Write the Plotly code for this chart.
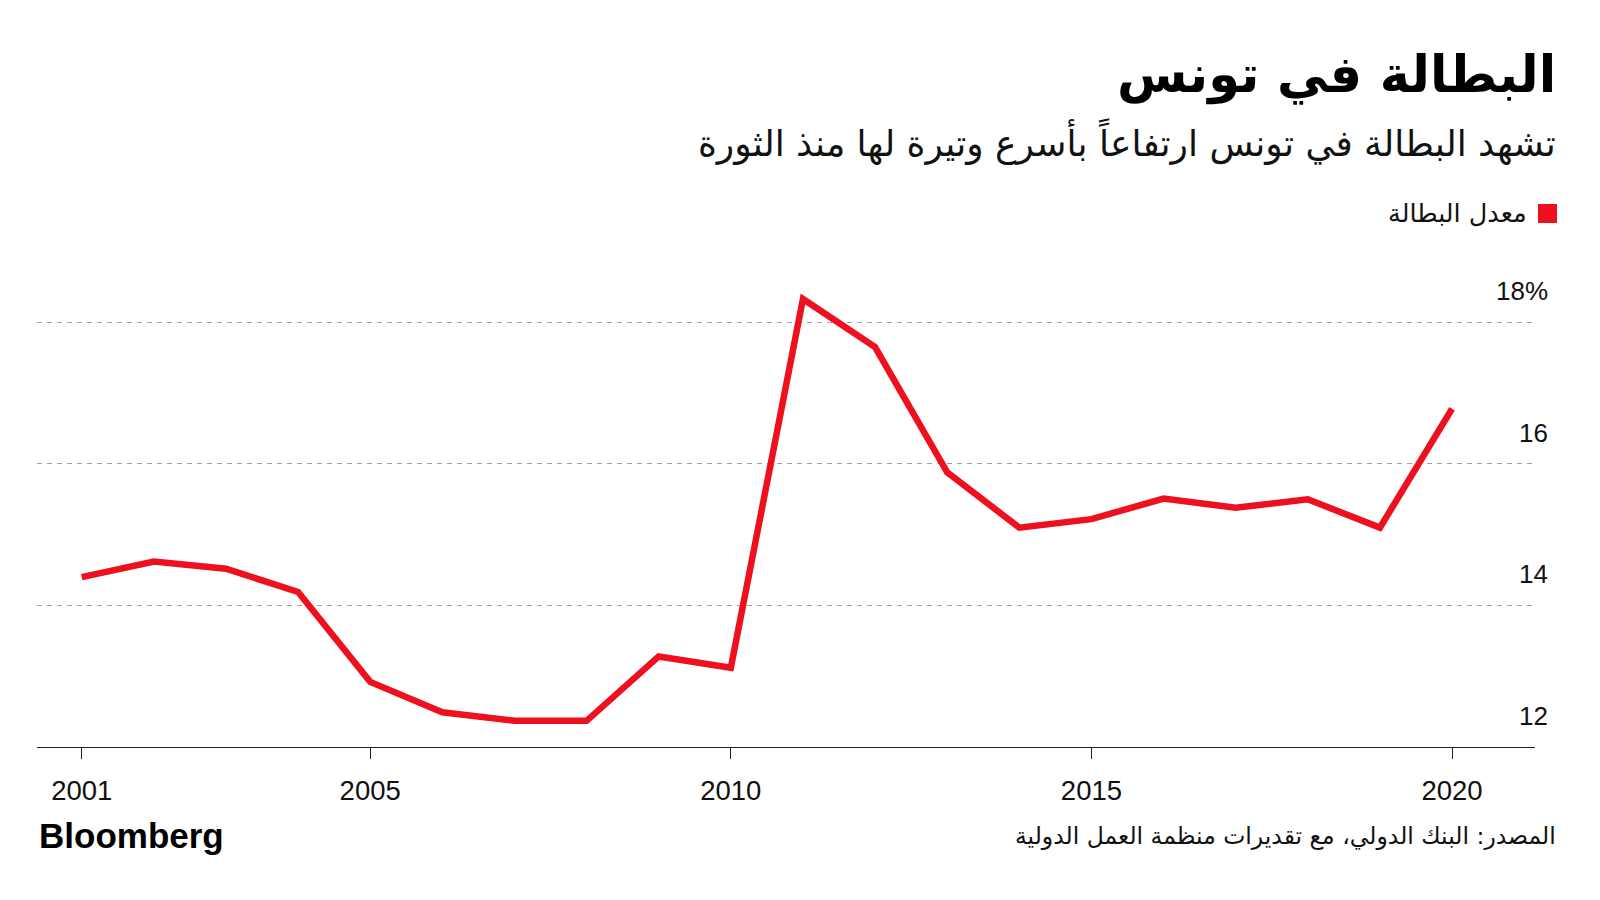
"""Tunisia unemployment line chart, Bloomberg style."""

import plotly.graph_objects as go

years = list(range(2001, 2021))
unemployment = [14.4, 14.62, 14.52, 14.19, 12.92, 12.49, 12.37, 12.37, 13.28, 13.12,
                18.33, 17.65, 15.88, 15.1, 15.22, 15.51, 15.38, 15.5, 15.1, 16.78]
y_ticks = [12, 14, 16, 18]
y_tick_labels = ["12", "14", "16", "18%"]
x_ticks = [2001, 2005, 2010, 2015, 2020]

title_text = "البطالة في تونس"
subtitle_text = "تشهد البطالة في تونس ارتفاعاً بأسرع وتيرة لها منذ الثورة"
series_name = "معدل البطالة"
source_text = "المصدر: البنك الدولي، مع تقديرات منظمة العمل الدولية"

RED = "#ee0f1f"
W, H = 1600, 900
OFF = 8  # page body margin
L, R, T, B = 29, 73, 279, 161
AR_FONT = "DejaVu Sans"
LAT_FONT = "Liberation Sans, Arial, sans-serif"


def px_x(px):
    # page pixel -> paper x
    return (px - OFF - L) / (W - L - R)


def px_y(py):
    # page pixel -> paper y
    return (H - B - (py - OFF)) / (H - T - B)


fig = go.Figure(
    go.Scatter(
        x=years,
        y=unemployment,
        mode="lines",
        line={"color": RED, "width": 6.5},
        showlegend=False,
    )
)

fig.update_layout(
    width=W,
    height=H,
    margin={"l": L, "r": R, "t": T, "b": B},
    paper_bgcolor="white",
    plot_bgcolor="white",
    font={"family": LAT_FONT, "color": "#111111"},
)

fig.update_xaxes(
    range=[2000.38, 2021.15],
    tickvals=x_ticks,
    ticks="outside",
    ticklen=11,
    tickcolor="#222222",
    tickwidth=1.3,
    showline=True,
    linecolor="#222222",
    linewidth=1.3,
    showgrid=False,
    zeroline=False,
    tickfont={"size": 27.5, "color": "#111111"},
    ticklabelstandoff=8,
)
fig.update_yaxes(
    range=[12, 18.5],
    tickvals=y_ticks,
    showticklabels=False,
    showgrid=True,
    gridcolor="#a0a0a0",
    gridwidth=1,
    griddash="5px,5px",
    zeroline=False,
)

# y tick labels sit above their gridlines, right aligned
for val, lab in zip(y_ticks, y_tick_labels):
    fig.add_annotation(
        x=1, xref="paper", y=val, yref="y",
        text=lab, showarrow=False,
        xanchor="right", yanchor="middle",
        xshift=15, yshift=31,
        font={"size": 26, "color": "#111111", "family": LAT_FONT},
    )

fig.add_annotation(
    x=px_x(1558), y=px_y(75), xref="paper", yref="paper",
    text=f"<b>{title_text}</b>", showarrow=False,
    xanchor="right", yanchor="middle",
    font={"size": 51, "color": "#000000", "family": AR_FONT},
)
fig.add_annotation(
    x=px_x(1558), y=px_y(142), xref="paper", yref="paper",
    text=subtitle_text, showarrow=False,
    xanchor="right", yanchor="middle",
    font={"size": 36, "color": "#111111", "family": AR_FONT},
)

# legend
fig.add_shape(
    type="rect", xref="paper", yref="paper",
    x0=px_x(1538), x1=px_x(1557), y0=px_y(223), y1=px_y(204),
    fillcolor=RED, line={"width": 0},
)
fig.add_annotation(
    x=px_x(1529), y=px_y(213), xref="paper", yref="paper",
    text=series_name, showarrow=False,
    xanchor="right", yanchor="middle",
    font={"size": 25.5, "color": "#111111", "family": AR_FONT},
)

fig.add_annotation(
    x=px_x(37), y=px_y(835), xref="paper", yref="paper",
    text="<b>Bloomberg</b>", showarrow=False,
    xanchor="left", yanchor="middle",
    font={"size": 35, "color": "#000000", "family": LAT_FONT},
)
fig.add_annotation(
    x=px_x(1558), y=px_y(836), xref="paper", yref="paper",
    text=source_text, showarrow=False,
    xanchor="right", yanchor="middle",
    font={"size": 23.5, "color": "#111111", "family": AR_FONT},
)

fig.write_html("out.html")
